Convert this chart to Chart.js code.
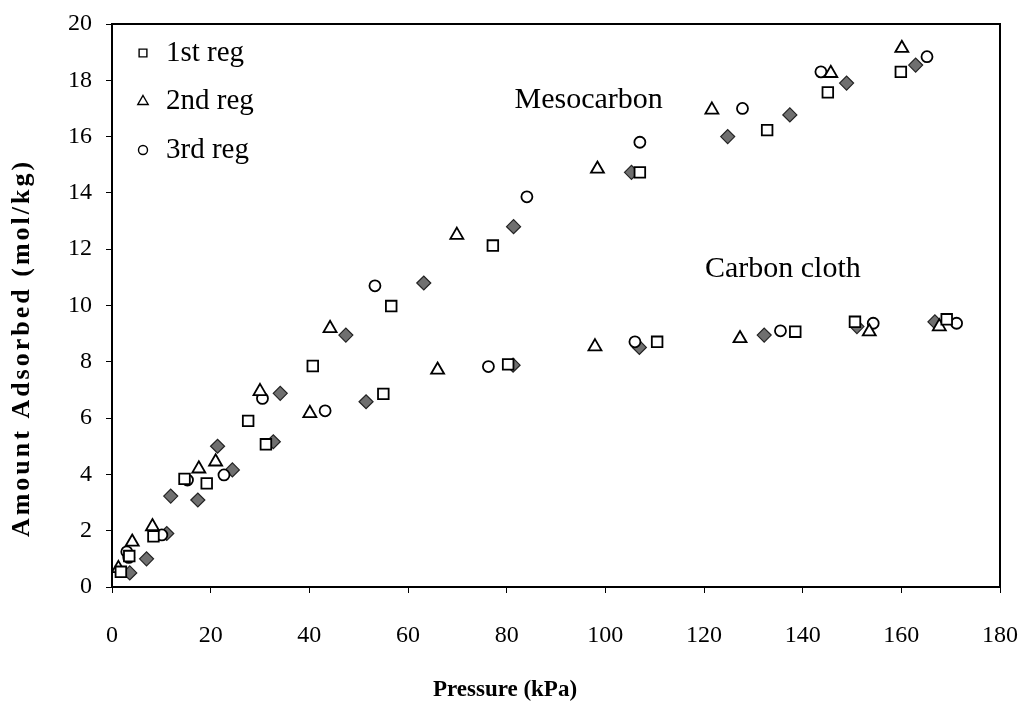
<!DOCTYPE html>
<html lang="en">
<head>
    <meta charset="UTF-8">
    <title>Amount Adsorbed vs Pressure</title>
    <script src="https://cdn.jsdelivr.net/npm/chart.js"></script>
    <style>
        html, body { margin: 0; padding: 0; background: #fff; overflow: hidden; }
        #wrap { width: 1031px; height: 709px; }
        canvas { display: block; }
    </style>
</head>
<body>
<div id="wrap"><canvas id="isoChart"></canvas></div>

<script>
    // axis ticks
    const xTickValues = [0, 20, 40, 60, 80, 100, 120, 140, 160, 180];
    const yTickValues = [0, 2, 4, 6, 8, 10, 12, 14, 16, 18, 20];

    // 1st regeneration (squares)
    const p1st = [1.8, 3.5, 8.4, 14.7, 19.2, 27.6, 31.2, 40.7, 55.0, 56.6, 77.2, 80.3, 107.0, 110.5, 132.8, 138.5, 145.1, 150.6, 159.9, 169.2];
    const q1st = [0.54, 1.1, 1.8, 3.84, 3.68, 5.9, 5.07, 7.85, 6.86, 9.98, 12.13, 7.91, 14.73, 8.71, 16.23, 9.07, 17.57, 9.42, 18.3, 9.51];

    // 2nd regeneration (triangles)
    const p2nd = [1.3, 4.1, 8.2, 17.6, 21.0, 30.0, 40.1, 44.2, 66.0, 69.9, 97.9, 98.4, 121.6, 127.3, 145.7, 153.5, 160.1, 167.7];
    const q2nd = [0.66, 1.6, 2.15, 4.2, 4.45, 6.95, 6.17, 9.19, 7.71, 12.5, 8.54, 14.85, 16.95, 8.83, 18.25, 9.07, 19.14, 9.25];

    // 3rd regeneration (circles)
    const p3rd = [3.0, 3.4, 10.1, 15.3, 22.7, 30.5, 43.2, 53.3, 76.3, 84.1, 106.0, 107.0, 127.8, 135.5, 143.7, 154.3, 165.2, 171.2];
    const q3rd = [1.25, 1.05, 1.85, 3.8, 3.98, 6.7, 6.26, 10.7, 7.83, 13.86, 8.71, 15.8, 17.0, 9.1, 18.3, 9.37, 18.84, 9.37];

    // unlabelled filled diamonds
    const pFresh = [3.6, 7.0, 11.1, 11.9, 17.4, 21.4, 24.4, 32.7, 34.1, 47.4, 51.5, 63.2, 81.3, 81.4, 105.3, 106.9, 124.8, 132.2, 137.4, 148.9, 151.0, 162.9, 166.8];
    const qFresh = [0.5, 1.0, 1.9, 3.23, 3.09, 5.0, 4.16, 5.16, 6.88, 8.95, 6.58, 10.8, 7.88, 12.8, 14.73, 8.51, 16.0, 8.95, 16.77, 17.9, 9.25, 18.54, 9.42];

    const serif = '"Liberation Serif", "Times New Roman", serif';

    function pts(xs, ys) {
        return xs.map((x, i) => ({ x: x, y: ys[i] }));
    }

    // frame, legend, labels and axis titles
    const decor = {
        id: 'decor',
        beforeDatasetsDraw(chart) {
            const { ctx, chartArea: a } = chart;
            ctx.save();
            ctx.strokeStyle = '#000';
            ctx.lineWidth = 2;
            ctx.strokeRect(a.left, a.top, a.right - a.left, a.bottom - a.top);
            ctx.restore();
        },
        afterDraw(chart) {
            const { ctx } = chart;
            const xs = chart.scales.x, ys = chart.scales.y;
            ctx.save();
            ctx.fillStyle = '#000';

            // legend inside plot
            const items = [
                { ds: 0, text: '1st reg', r: 5.5 },
                { ds: 1, text: '2nd reg', r: 6 },
                { ds: 2, text: '3rd reg', r: 4.5 }
            ];
            ctx.font = '29px ' + serif;
            ctx.textBaseline = 'middle';
            items.forEach((it, i) => {
                const d = chart.data.datasets[it.ds];
                const cy = 53 + i * 48.5;
                ctx.strokeStyle = '#000';
                ctx.fillStyle = '#fff';
                ctx.lineWidth = 1.4;
                Chart.helpers.drawPoint(ctx, { pointStyle: d.pointStyle, rotation: 0, radius: it.r, borderWidth: 1.4 }, 143, cy);
                ctx.fillStyle = '#000';
                ctx.textAlign = 'left';
                ctx.fillText(it.text, 166, cy);
            });

            // curve labels
            ctx.font = '30px ' + serif;
            ctx.textBaseline = 'alphabetic';
            ctx.fillText('Mesocarbon', xs.getPixelForValue(81.6), ys.getPixelForValue(17.0));
            ctx.fillText('Carbon cloth', xs.getPixelForValue(120.2), ys.getPixelForValue(11.0));

            // axis titles
            ctx.font = 'bold 23px ' + serif;
            ctx.textAlign = 'center';
            ctx.textBaseline = 'middle';
            ctx.fillText('Pressure (kPa)', 505, 690);

            ctx.translate(22, 348);
            ctx.rotate(-Math.PI / 2);
            ctx.font = 'bold 26px ' + serif;
            ctx.letterSpacing = '3px';
            ctx.fillText('Amount Adsorbed (mol/kg)', 0, 0);
            ctx.restore();
        }
    };

    const hollow = {
        backgroundColor: '#fff',
        borderColor: '#000',
        borderWidth: 1.8,
        showLine: false
    };

    new Chart(document.getElementById('isoChart'), {
        type: 'scatter',
        data: {
            datasets: [
                { label: '1st reg', data: pts(p1st, q1st), pointStyle: 'rect', pointRadius: 7.5, ...hollow },
                { label: '2nd reg', data: pts(p2nd, q2nd), pointStyle: 'triangle', pointRadius: 7.5, ...hollow },
                { label: '3rd reg', data: pts(p3rd, q3rd), pointStyle: 'circle', pointRadius: 5.5, ...hollow },
                { label: 'fresh', data: pts(pFresh, qFresh), pointStyle: 'rectRot', pointRadius: 7,
                  backgroundColor: '#6f6f6f', borderColor: '#222', borderWidth: 1.2, showLine: false }
            ]
        },
        options: {
            responsive: true,
            maintainAspectRatio: false,
            animation: false,
            layout: { padding: { top: 24, right: 31, left: 0, bottom: 0 } },
            plugins: { legend: { display: false }, tooltip: { enabled: false } },
            scales: {
                x: {
                    type: 'linear',
                    min: 0, max: 180,
                    afterFit: s => { s.height = 122; s.paddingLeft = 0; s.paddingRight = 0; },
                    afterBuildTicks: s => { s.ticks = xTickValues.map(v => ({ value: v })); },
                    grid: { drawOnChartArea: false, drawTicks: true, tickLength: 6, color: '#000', lineWidth: 1 },
                    border: { color: '#000', width: 2 },
                    ticks: { color: '#000', padding: 28, maxRotation: 0, font: { family: serif, size: 24 } }
                },
                y: {
                    type: 'linear',
                    min: 0, max: 20,
                    afterFit: s => { s.width = 112; s.paddingTop = 0; s.paddingBottom = 0; },
                    afterBuildTicks: s => { s.ticks = yTickValues.map(v => ({ value: v })); },
                    grid: { drawOnChartArea: false, drawTicks: true, tickLength: 6, color: '#000', lineWidth: 1 },
                    border: { color: '#000', width: 2 },
                    ticks: { color: '#000', padding: 14, font: { family: serif, size: 24 } }
                }
            }
        },
        plugins: [decor]
    });
</script>
</body>
</html>
